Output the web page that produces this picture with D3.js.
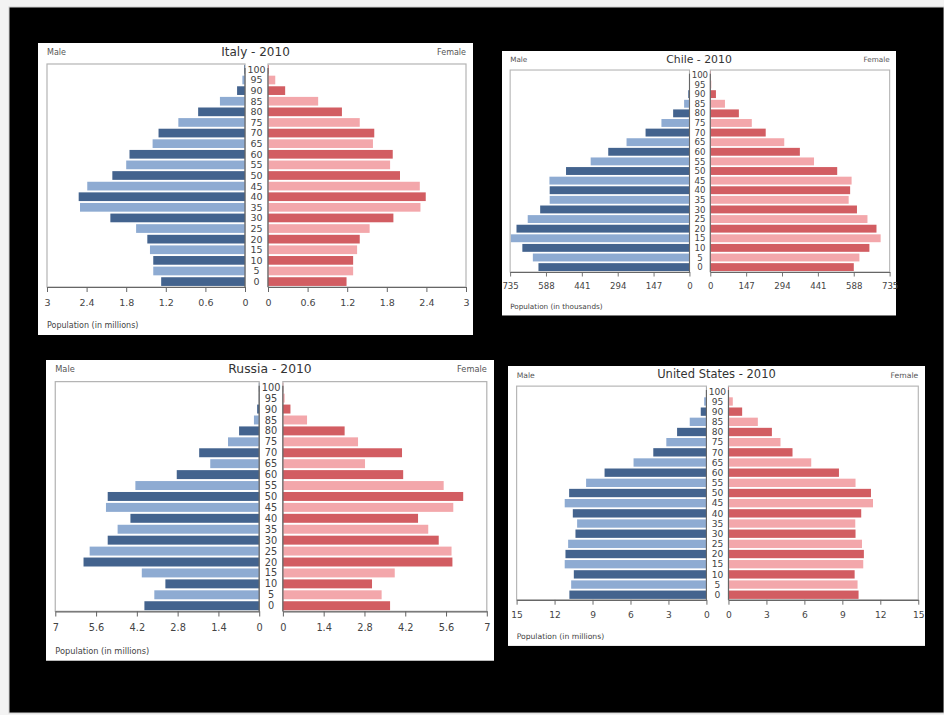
<!DOCTYPE html>
<html>
<head>
<meta charset="utf-8">
<script src="https://cdn.jsdelivr.net/npm/d3@7"></script>
<style>
	body { margin: 0; background: #f3f3f3; }
	svg { display: block; font-family: "DejaVu Sans", Verdana, sans-serif; }
</style>
</head>
<body>
<div id="chart"></div>
<script>
// ----------------------------------
// DATA (age groups listed from 0 up to 100)
// ----------------------------------

const ageGroups = [0, 5, 10, 15, 20, 25, 30, 35, 40, 45, 50, 55, 60, 65, 70, 75, 80, 85, 90, 95, 100];

const italyMale   = [1.27, 1.39, 1.39, 1.44, 1.48, 1.65, 2.04, 2.50, 2.52, 2.39, 2.01, 1.80, 1.75, 1.40, 1.31, 1.01, 0.71, 0.38, 0.12, 0.04, 0.01];
const italyFemale = [1.19, 1.29, 1.29, 1.35, 1.39, 1.54, 1.90, 2.31, 2.39, 2.30, 2.00, 1.85, 1.89, 1.59, 1.61, 1.39, 1.12, 0.76, 0.26, 0.11, 0.01];
const italyTicks  = [0, 0.6, 1.2, 1.8, 2.4, 3];

const chileMale   = [619, 642, 685, 732, 709, 663, 612, 573, 573, 574, 506, 405, 333, 258, 180, 115, 67, 22, 5, 1, 0];
const chileFemale = [588, 611, 652, 698, 681, 644, 601, 567, 573, 579, 520, 425, 367, 303, 227, 170, 117, 60, 23, 4, 1];
const chileTicks  = [0, 147, 294, 441, 588, 735];

const russiaMale   = [3.94, 3.60, 3.22, 4.03, 6.03, 5.82, 5.20, 4.86, 4.42, 5.26, 5.20, 4.25, 2.83, 1.68, 2.06, 1.07, 0.69, 0.18, 0.07, 0.01, 0.01];
const russiaFemale = [3.68, 3.39, 3.06, 3.84, 5.82, 5.79, 5.35, 4.99, 4.64, 5.85, 6.19, 5.52, 4.13, 2.82, 4.09, 2.58, 2.12, 0.83, 0.26, 0.06, 0.01];
const russiaTicks  = [0, 1.4, 2.8, 4.2, 5.6, 7];

const usMale   = [10.83, 10.69, 10.48, 11.20, 11.14, 10.93, 10.35, 10.22, 10.56, 11.20, 10.85, 9.51, 8.05, 5.76, 4.20, 3.17, 2.32, 1.32, 0.45, 0.18, 0.01];
const usFemale = [10.28, 10.20, 9.97, 10.65, 10.70, 10.55, 10.04, 10.02, 10.49, 11.42, 11.26, 10.04, 8.73, 6.54, 5.06, 4.11, 3.43, 2.32, 1.08, 0.34, 0.04];
const usTicks  = [0, 3, 6, 9, 12, 15];

// ----------------------------------
// PAGE
// ----------------------------------

const svg = d3.select('#chart')
	.append('svg')
	.attr('width', 944)
	.attr('height', 715);

svg.append('rect')
	.attr('x', 9).attr('y', 7)
	.attr('width', 935).attr('height', 706)
	.attr('fill', '#000')
	.attr('stroke', '#cfcfcf');

// ----------------------------------
// ONE PYRAMID (drawn in a 435 x 292 box, then scaled)
// ----------------------------------

function drawPyramid(options){
	const W = 435, H = 292,
		k = options.width / W,
		plotTop = 21, plotBottom = 244,
		leftX0 = 9, leftX1 = 207, rightX0 = 230, rightX1 = 428,
		mid = (leftX1 + rightX0) / 2,
		max = d3.max(options.ticks);

	const colors = {
		maleDark: '#43638e', maleLight: '#8eabd2',
		femaleDark: '#d25d62', femaleLight: '#f3a7ab'
	};

	const g = svg.append('g')
		.attr('transform', `translate(${ options.x },${ options.y }) scale(${ k })`);

	g.append('rect')
		.attr('width', W).attr('height', H)
		.attr('fill', '#fff');

	const rows = ageGroups.map((a, i) => ({age: a, i: i, male: options.male[i], female: options.female[i]}));

	// scales
	const y = d3.scaleBand()
		.domain(ageGroups.slice().reverse())
		.range([plotTop, plotBottom])
		.paddingInner(0.18)
		.paddingOuter(0.1);

	const xLeft = d3.scaleLinear().domain([max, 0]).range([leftX0, leftX1]);
	const xRight = d3.scaleLinear().domain([0, max]).range([rightX0, rightX1]);

	// plot frames
	[[leftX0, leftX1], [rightX0, rightX1]].forEach(([a, b]) => {
		g.append('rect')
			.attr('x', a).attr('y', plotTop)
			.attr('width', b - a).attr('height', plotBottom - plotTop)
			.attr('fill', 'none')
			.attr('stroke', '#b4b4b4')
			.attr('stroke-width', 1.2);
	});

	// bars
	g.selectAll('.male')
		.data(rows)
		.enter()
		.append('rect')
		.attr('class', 'male')
		.attr('x', d => xLeft(d.male))
		.attr('y', d => y(d.age))
		.attr('width', d => xLeft(0) - xLeft(d.male))
		.attr('height', y.bandwidth())
		.attr('fill', d => d.i % 2 === 0 ? colors.maleDark : colors.maleLight);

	g.selectAll('.female')
		.data(rows)
		.enter()
		.append('rect')
		.attr('class', 'female')
		.attr('x', xRight(0))
		.attr('y', d => y(d.age))
		.attr('width', d => xRight(d.female) - xRight(0))
		.attr('height', y.bandwidth())
		.attr('fill', d => d.i % 2 === 0 ? colors.femaleDark : colors.femaleLight);

	// zero lines
	[leftX1, rightX0].forEach(x => {
		g.append('line')
			.attr('x1', x).attr('x2', x)
			.attr('y1', plotTop + 4).attr('y2', plotBottom)
			.attr('stroke', '#666')
			.attr('stroke-width', 1.2);
	});

	// axes
	[xLeft, xRight].forEach(sc => {
		const ax = g.append('g')
			.attr('transform', `translate(0,${ plotBottom })`)
			.call(d3.axisBottom(sc)
				.tickValues(options.ticks)
				.tickFormat(d => d)
				.tickSize(5)
				.tickSizeOuter(0)
				.tickPadding(7));
		ax.select('.domain').attr('stroke', '#666').attr('stroke-width', 1.2);
		ax.selectAll('.tick line').attr('stroke', '#666');
		ax.selectAll('.tick text')
			.attr('fill', '#444')
			.style('font-size', '9.5px')
			.style('font-family', '"DejaVu Sans", Verdana, sans-serif');
	});

	// age labels
	g.selectAll('.age')
		.data(rows)
		.enter()
		.append('text')
		.attr('class', 'age')
		.attr('x', mid)
		.attr('y', d => y(d.age) + y.bandwidth() / 2)
		.attr('dy', '0.36em')
		.attr('text-anchor', 'middle')
		.style('font-size', '9.5px')
		.attr('fill', '#444')
		.text(d => d.age);

	// texts
	g.append('text')
		.attr('x', W / 2).attr('y', 13)
		.attr('text-anchor', 'middle')
		.style('font-size', '12px')
		.attr('fill', '#333')
		.text(options.title);

	g.append('text')
		.attr('x', leftX0).attr('y', 12)
		.style('font-size', '8px')
		.attr('fill', '#555')
		.text('Male');

	g.append('text')
		.attr('x', rightX1).attr('y', 12)
		.attr('text-anchor', 'end')
		.style('font-size', '8px')
		.attr('fill', '#555')
		.text('Female');

	g.append('text')
		.attr('x', leftX0).attr('y', 285)
		.style('font-size', '8px')
		.attr('fill', '#444')
		.text(options.unit);
}

drawPyramid({x: 38, y: 43, width: 435, title: 'Italy - 2010', male: italyMale, female: italyFemale, ticks: italyTicks, unit: 'Population (in millions)'});
drawPyramid({x: 502, y: 51, width: 394, title: 'Chile - 2010', male: chileMale, female: chileFemale, ticks: chileTicks, unit: 'Population (in thousands)'});
drawPyramid({x: 46, y: 360, width: 448, title: 'Russia - 2010', male: russiaMale, female: russiaFemale, ticks: russiaTicks, unit: 'Population (in millions)'});
drawPyramid({x: 508, y: 366, width: 417, title: 'United States - 2010', male: usMale, female: usFemale, ticks: usTicks, unit: 'Population (in millions)'});
</script>
</body>
</html>
